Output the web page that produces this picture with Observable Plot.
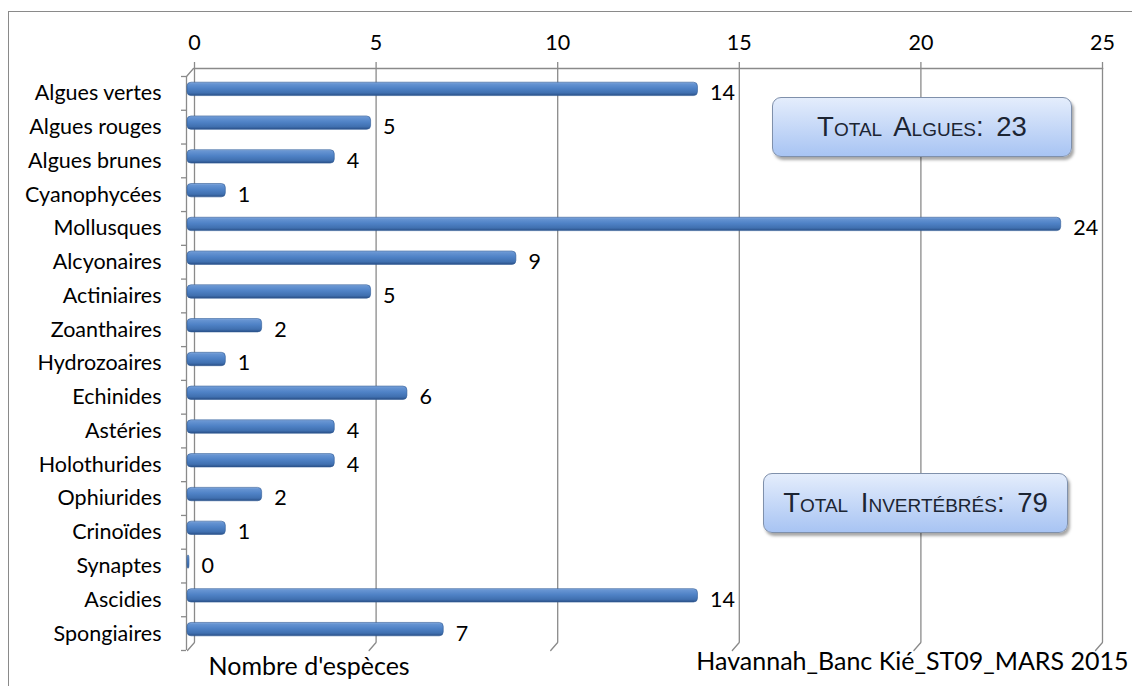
<!DOCTYPE html>
<html>
<head>
<meta charset="utf-8">
<script src="https://cdn.jsdelivr.net/npm/d3@7"></script>
<script src="https://cdn.jsdelivr.net/npm/@observablehq/plot@0.6"></script>
<style>
  html, body { margin: 0; padding: 0; background: #fff; }
  #wrap { position: relative; width: 1132px; height: 686px; overflow: hidden; }
  #border { position: absolute; left: 8px; top: 11px; width: 1200px; height: 800px;
            border-left: 1.5px solid #8a8a8a; border-top: 1.5px solid #8a8a8a; }
  .box { position: absolute; display: flex; align-items: center; justify-content: center;
         background: linear-gradient(#e4edfc, #a8c4f3); border: 1px solid #7f90ab; border-radius: 9px;
         box-shadow: 2px 3px 3px rgba(0,0,0,0.35); font-family: "Liberation Sans", Arial, sans-serif;
         font-variant: small-caps; font-size: 27.5px; color: #1c2533; word-spacing: 5px; box-sizing: border-box; }
  svg { position: absolute; left: 0; top: 0; }
</style>
</head>
<body>
<div id="wrap">
  <div id="border"></div>
</div>
<script>
const categories = ["Algues vertes", "Algues rouges", "Algues brunes", "Cyanophycées", "Mollusques",
  "Alcyonaires", "Actiniaires", "Zoanthaires", "Hydrozoaires", "Echinides", "Astéries",
  "Holothurides", "Ophiurides", "Crinoïdes", "Synaptes", "Ascidies", "Spongiaires"];
const counts = [14, 5, 4, 1, 24, 9, 5, 2, 1, 6, 4, 4, 2, 1, 0, 14, 7];
const xTicks = [0, 5, 10, 15, 20, 25];
const axisTitle = "Nombre d'espèces";
const sourceLabel = "Havannah_Banc Kié_ST09_MARS 2015";
const totalLabels = ["Total Algues: 23", "Total Invertébrés: 79"];

const data = categories.map((c, i) => ({cat: c, n: counts[i]}));
const grid = "#8a8a8a";
const lineShape = {draw(context, l) { context.moveTo(0, 0); context.lineTo(0, -l); }};
const bw = (686 - 36 - 76) / categories.length;

const chart = Plot.plot({
  width: 1132, height: 686,
  marginLeft: 187, marginRight: 37, marginTop: 76, marginBottom: 36,
  style: {fontFamily: "Lato, sans-serif", fontSize: "21.5px", color: "#000", background: "transparent", overflow: "visible"},
  x: {domain: [0, 25], axis: null},
  y: {domain: categories, axis: null, padding: 0, round: false},
  marks: [
    Plot.ruleX(xTicks, {stroke: grid, strokeWidth: 1.3, dx: 7, dy: -8}),
    Plot.frame({anchor: "top", stroke: grid, strokeWidth: 1.3, dx: 7, dy: -8}),
    Plot.vector(xTicks, {x: d => d, frameAnchor: "bottom", anchor: "start", length: 10.6, rotate: 41, shape: lineShape, stroke: grid, strokeWidth: 1.3, fill: "none"}),
    Plot.vector([0], {x: d => d, frameAnchor: "top", anchor: "start", length: 10.6, rotate: 41, shape: lineShape, stroke: grid, strokeWidth: 1.3, fill: "none", dx: -1}),
    Plot.ruleX([0], {stroke: grid, strokeWidth: 1.3, dx: -1}),
    Plot.axisY({tickSize: 5, tickFormat: () => "", label: null, dy: -bw / 2, dx: -1, stroke: grid, strokeWidth: 1.3}),
    Plot.axisY({ticks: [categories[categories.length - 1]], tickSize: 5, tickFormat: () => "", label: null, dy: bw / 2, dx: -1, stroke: grid, strokeWidth: 1.3}),
    Plot.axisY({tickSize: 0, tickPadding: 26, label: null}),
    Plot.axisX({anchor: "top", ticks: xTicks, tickSize: 7, tickPadding: 12, dx: 7, dy: -8, label: null, stroke: grid, strokeWidth: 1.3}),
    Plot.barX(data, {x: "n", y: "cat", fill: "url(#barGrad)", stroke: "#2f5a95", strokeWidth: 0.6, insetTop: 10.2, insetBottom: 10.2, insetRight: -2, insetLeft: 0, dy: -4, rx: 4}),
    Plot.text(data, {x: "n", y: "cat", text: d => String(d.n), dx: 14, textAnchor: "start"}),
    Plot.text([axisTitle], {text: d => d, frameAnchor: "bottom-left", textAnchor: "start", dx: 21, dy: 24, fontSize: 25}),
    Plot.text([sourceLabel], {text: d => d, frameAnchor: "bottom-right", textAnchor: "end", dx: 33, dy: 19, fontSize: 25})
  ]
});

const defs = d3.select(chart).insert("defs", ":first-child");
const g = defs.append("linearGradient").attr("id", "barGrad").attr("x1", 0).attr("y1", 0).attr("x2", 0).attr("y2", 1);
[["0%", "#8aaee0"], ["12%", "#6694d2"], ["45%", "#4f82c6"], ["80%", "#4070b0"], ["100%", "#2a4f86"]]
  .forEach(([o, c]) => g.append("stop").attr("offset", o).attr("stop-color", c));

const wrap = document.getElementById("wrap");
wrap.appendChild(chart);

const boxes = [
  {text: totalLabels[0], left: 772, top: 97, w: 300, h: 60},
  {text: totalLabels[1], left: 763, top: 473, w: 305, h: 60}
];
boxes.forEach(b => {
  const d = document.createElement("div");
  d.className = "box";
  d.textContent = b.text;
  Object.assign(d.style, {left: b.left + "px", top: b.top + "px", width: b.w + "px", height: b.h + "px"});
  wrap.appendChild(d);
});
</script>
</body>
</html>
